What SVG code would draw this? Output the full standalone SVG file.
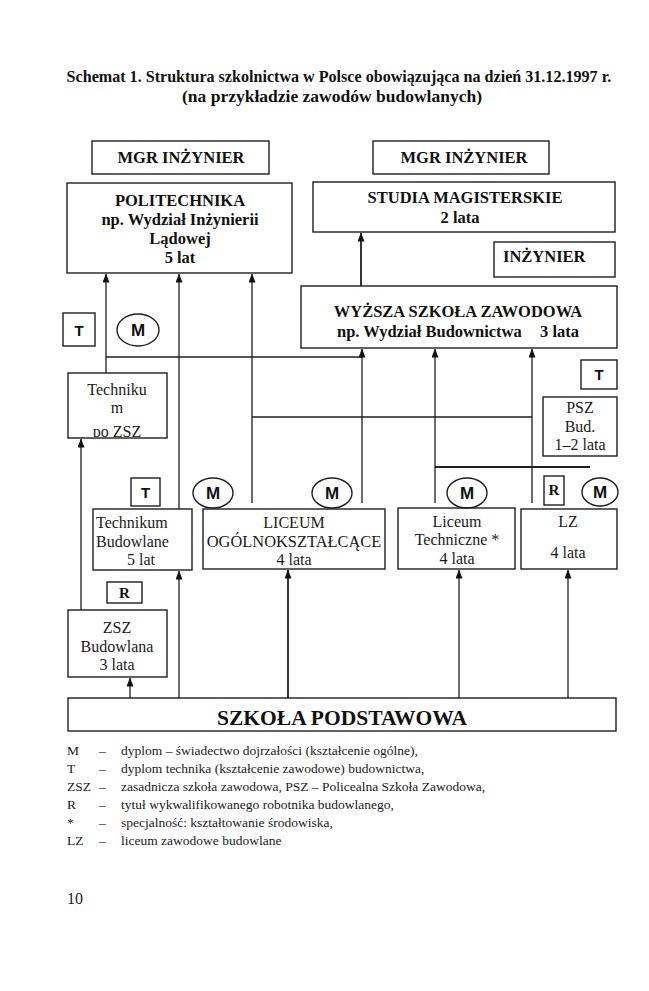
<svg xmlns="http://www.w3.org/2000/svg" width="649" height="991" viewBox="0 0 649 991">
<style>
.box{fill:none;stroke:#1e1e1e;stroke-width:1.4}
.ln{fill:none;stroke:#1e1e1e;stroke-width:1.3}
.thk{stroke-width:1.8}
.b{font-family:"Liberation Serif",serif;font-weight:bold;font-size:16.5px;fill:#111;text-anchor:middle}
.r{font-family:"Liberation Serif",serif;font-size:16px;fill:#1a1a1a;text-anchor:middle}
.rl{font-family:"Liberation Serif",serif;font-size:16px;fill:#1a1a1a}
.s{font-family:"Liberation Sans",sans-serif;font-weight:bold;fill:#111;text-anchor:middle}
.leg{font-family:"Liberation Serif",serif;font-size:13.5px;fill:#1a1a1a}
</style>
<defs>
<marker id="ah" markerUnits="userSpaceOnUse" markerWidth="9" markerHeight="7" refX="8.5" refY="3.5" orient="auto">
<path d="M0,0 L9,3.5 L0,7 z" fill="#111"/>
</marker>
<clipPath id="cpz"><rect x="68" y="373" width="99" height="64"/></clipPath>
</defs>
<rect width="649" height="991" fill="#fff"/>

<g id="title">
<text class="b" x="339" y="82" style="font-size:16.1px">Schemat 1. Struktura szkolnictwa w Polsce obowiązująca na dzień 31.12.1997 r.</text>
<text class="b" x="332" y="102" style="font-size:17.5px">(na przykładzie zawodów budowlanych)</text>
</g>

<g id="connectors">
<path class="ln thk" d="M361,286 V233" marker-end="url(#ah)"/>
<path class="ln" d="M106,373 V274" marker-end="url(#ah)"/>
<path class="ln" d="M106,357 H362"/>
<path class="ln" d="M179,509 V274" marker-end="url(#ah)"/>
<path class="ln" d="M252,503 V274" marker-end="url(#ah)"/>
<path class="ln" d="M362,503 V349" marker-end="url(#ah)"/>
<path class="ln" d="M435,503 V349" marker-end="url(#ah)"/>
<path class="ln" d="M532,503 V349" marker-end="url(#ah)"/>
<path class="ln" d="M252,417 H532"/>
<path class="ln thk" d="M435,467 H590"/>
<path class="ln" d="M81,610 V439" marker-end="url(#ah)"/>
<path class="ln" d="M130,698 V678" marker-end="url(#ah)"/>
<path class="ln" d="M179,698 V571" marker-end="url(#ah)"/>
<path class="ln thk" d="M288,698 V570" marker-end="url(#ah)"/>
<path class="ln" d="M459,698 V570" marker-end="url(#ah)"/>
<path class="ln" d="M568,698 V570" marker-end="url(#ah)"/>
</g>

<g id="mgr-left">
<rect class="box" x="92" y="141" width="177" height="33"/>
<text class="b" x="181" y="163">MGR INŻYNIER</text>
</g>
<g id="mgr-right">
<rect class="box" x="373" y="141" width="176" height="33"/>
<text class="b" x="464" y="163">MGR INŻYNIER</text>
</g>
<g id="politechnika">
<rect class="box" x="67" y="183" width="225" height="90"/>
<text class="b" x="180" y="206">POLITECHNIKA</text>
<text class="b" x="180" y="225">np. Wydział Inżynierii</text>
<text class="b" x="180" y="244">Lądowej</text>
<text class="b" x="180" y="263">5 lat</text>
</g>
<g id="studia">
<rect class="box" x="313" y="182" width="302" height="50"/>
<text class="b" x="465" y="203">STUDIA MAGISTERSKIE</text>
<text class="b" x="460" y="223">2 lata</text>
</g>
<g id="inzynier">
<rect class="box" x="494" y="242" width="121" height="35"/>
<text class="b" x="503" y="262" style="text-anchor:start">INŻYNIER</text>
</g>
<g id="wsz">
<rect class="box" x="301" y="286" width="316" height="62"/>
<text class="b" x="458" y="317">WYŻSZA SZKOŁA ZAWODOWA</text>
<text class="b" x="337" y="337" style="text-anchor:start">np. Wydział Budownictwa</text>
<text class="b" x="540" y="337" style="text-anchor:start">3 lata</text>
</g>
<g id="t-left">
<rect class="box" x="63" y="313" width="32" height="33"/>
<text class="s" x="79" y="336" font-size="15">T</text>
</g>
<g id="m-left">
<ellipse class="box" cx="138" cy="330" rx="21" ry="16"/>
<text class="s" x="138" y="336" font-size="17">M</text>
</g>
<g id="technikum-po-zsz">
<rect class="box" x="68" y="373" width="99" height="65"/>
<text class="r" x="117" y="395">Techniku</text>
<text class="r" x="117" y="413">m</text>
<text class="r" x="117" y="437" clip-path="url(#cpz)">po ZSZ</text>
</g>
<g id="t-right">
<rect class="box" x="581" y="360" width="36" height="29"/>
<text class="s" x="599" y="380" font-size="15">T</text>
</g>
<g id="psz">
<rect class="box" x="543" y="397" width="74" height="59"/>
<text class="r" x="580" y="413">PSZ</text>
<text class="r" x="580" y="432">Bud.</text>
<text class="r" x="580" y="450">1–2 lata</text>
</g>
<g id="t-tb">
<rect class="box" x="131" y="478" width="29" height="28"/>
<text class="s" x="145.5" y="498" font-size="15">T</text>
</g>
<g id="m-lo1">
<ellipse class="box" cx="213" cy="493" rx="20" ry="15"/>
<text class="s" x="213" y="499" font-size="17">M</text>
</g>
<g id="m-lo2">
<ellipse class="box" cx="332" cy="493" rx="20" ry="15"/>
<text class="s" x="332" y="499" font-size="17">M</text>
</g>
<g id="m-lt">
<ellipse class="box" cx="467" cy="493" rx="20" ry="15"/>
<text class="s" x="467" y="499" font-size="17">M</text>
</g>
<g id="r-lz">
<rect class="box" x="544" y="476" width="20" height="29"/>
<text class="b" x="554" y="495" style="font-size:15px">R</text>
</g>
<g id="m-lz">
<ellipse class="box" cx="600" cy="492" rx="18" ry="14"/>
<text class="s" x="600" y="498" font-size="17">M</text>
</g>
<g id="technikum-budowlane">
<rect class="box" x="93" y="509" width="99" height="61"/>
<text class="rl" x="96" y="528">Technikum</text>
<text class="rl" x="96" y="547">Budowlane</text>
<text class="rl" x="127" y="565">5 lat</text>
</g>
<g id="liceum-ogolnoksztalcace">
<rect class="box" x="203" y="509" width="182" height="60"/>
<text class="r" x="294" y="528">LICEUM</text>
<text class="r" x="294" y="547" style="font-size:16.4px">OGÓLNOKSZTAŁCĄCE</text>
<text class="r" x="294" y="565">4 lata</text>
</g>
<g id="liceum-techniczne">
<rect class="box" x="398" y="508" width="117" height="61"/>
<text class="r" x="457" y="527">Liceum</text>
<text class="r" x="457" y="545">Techniczne *</text>
<text class="r" x="457" y="564">4 lata</text>
</g>
<g id="lz">
<rect class="box" x="521" y="509" width="96" height="60"/>
<text class="r" x="568" y="527">LZ</text>
<text class="r" x="568" y="558">4 lata</text>
</g>
<g id="r-tb">
<rect class="box" x="107" y="582" width="35" height="21"/>
<text class="b" x="124.5" y="598" style="font-size:15px">R</text>
</g>
<g id="zsz">
<rect class="box" x="68" y="610" width="99" height="67"/>
<text class="r" x="117" y="633">ZSZ</text>
<text class="r" x="117" y="652">Budowlana</text>
<text class="r" x="117" y="670">3 lata</text>
</g>
<g id="szkola-podstawowa">
<rect class="box" x="68" y="698" width="548" height="33"/>
<text class="b" x="342" y="725" style="font-size:21.5px">SZKOŁA PODSTAWOWA</text>
</g>

<g id="legend">
<text class="leg" x="67" y="755">M</text><text class="leg" x="99" y="755">–</text><text class="leg" x="121" y="755">dyplom – świadectwo dojrzałości (kształcenie ogólne),</text>
<text class="leg" x="67" y="773">T</text><text class="leg" x="99" y="773">–</text><text class="leg" x="121" y="773">dyplom technika (kształcenie zawodowe) budownictwa,</text>
<text class="leg" x="67" y="791">ZSZ</text><text class="leg" x="99" y="791">–</text><text class="leg" x="121" y="791">zasadnicza szkoła zawodowa, PSZ – Policealna Szkoła Zawodowa,</text>
<text class="leg" x="67" y="809">R</text><text class="leg" x="99" y="809">–</text><text class="leg" x="121" y="809">tytuł wykwalifikowanego robotnika budowlanego,</text>
<text class="leg" x="67" y="827">*</text><text class="leg" x="99" y="827">–</text><text class="leg" x="121" y="827">specjalność: kształtowanie środowiska,</text>
<text class="leg" x="67" y="845">LZ</text><text class="leg" x="99" y="845">–</text><text class="leg" x="121" y="845">liceum zawodowe budowlane</text>
</g>
<text class="rl" x="67" y="904">10</text>
</svg>
